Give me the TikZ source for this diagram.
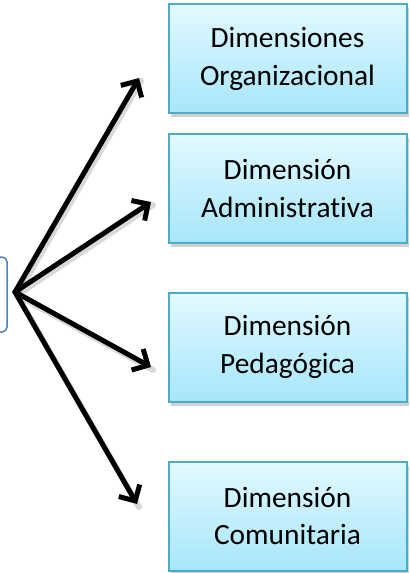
\documentclass[tikz,border=0pt]{standalone}
\usepackage{fontspec}
\setmainfont{Carlito}[RawFeature={-liga;-dlig;-clig}]
\usetikzlibrary{arrows.meta,shadows}
\definecolor{boxborder}{HTML}{4BACC6}
\definecolor{boxtop}{HTML}{E3F9FF}
\definecolor{boxbot}{HTML}{A6E6FA}
\definecolor{hubborder}{HTML}{4F81BD}
\tikzset{
  dimbox/.style={draw=boxborder, line width=2bp, top color=boxtop, bottom color=boxbot,
    minimum width=238bp, minimum height=109bp, inner sep=0pt, align=center,
    font=\fontsize{29.5}{38}\selectfont,
    drop shadow={shadow xshift=2bp, shadow yshift=-4bp, opacity=0.3, fill=black!60}},
  hubbox/.style={draw=hubborder, line width=1.5bp, fill=white, rounded corners=5bp,
    minimum width=60bp, minimum height=75bp, inner sep=0pt},
  bigarrow/.style={line width=5bp, -{Straight Barb[length=12bp, width=24bp, line width=5bp]}, line cap=round},
  arrowshadow/.style={line width=6bp, draw=black, opacity=0.15, line cap=round}
}
\begin{document}
\begin{tikzpicture}[x=1bp, y=-1bp]
\useasboundingbox (0,0) rectangle (409,573);
\node[hubbox] (hub) at (-23,294.5) {};
\coordinate (apex) at (15,292);
\node[dimbox] (b1) at (287.5,59) {Dimensiones\\Organizacional};
\node[dimbox] (b2) at (287.5,188.5) {Dimensión\\Administrativa};
\node[dimbox] (b3) at (287.5,347) {Dimensión\\Pedagógica};
\node[dimbox] (b4) at (287.5,516) {Dimensión\\Comunitaria};
\coordinate (t1) at (139,78);
\coordinate (t2) at (151,202);
\coordinate (t3) at (151,367);
\coordinate (t4) at (137,504);
\foreach \t in {t1,t2,t3,t4}{
  \draw[arrowshadow] ([shift={(2,3)}]apex) -- ([shift={(2,3)}]\t);
}
\foreach \t in {t1,t2,t3,t4}{
  \draw[bigarrow] (apex) -- (\t);
}
\end{tikzpicture}
\end{document}
